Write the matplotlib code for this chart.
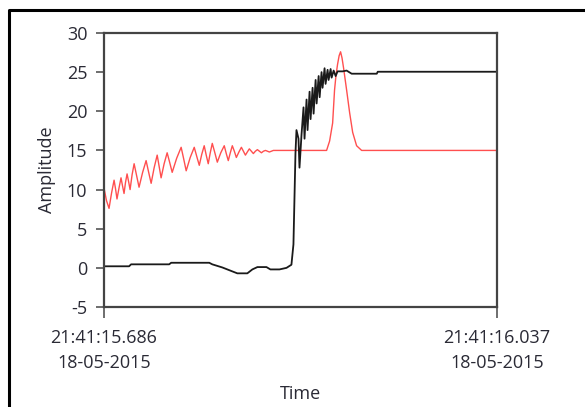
import matplotlib.pyplot as plt
from matplotlib.lines import Line2D

# time in ms after 21:41:15.686
red_t = [0, 2.2, 4.5, 6.8, 9.0, 10.3, 11.6, 13.4, 15.2, 16.5, 17.9, 19.2,
         20.6, 22.0, 23.3, 25.1, 26.9, 29.1, 31.3, 34.5, 37.6, 39.9, 42.1,
         44.8, 47.5, 49.2, 51.0, 53.7, 56.4, 58.6, 60.9, 64.9, 68.9, 71.2,
         73.4, 77.0, 80.6, 82.9, 85.1, 87.3, 89.5, 91.3, 93.1, 94.9, 96.7,
         99.0, 101.2, 104.3, 107.4, 109.2, 111.0, 112.8, 114.6, 116.4, 118.2,
         120.5, 122.7, 124.5, 126.3, 128.0, 129.8, 131.6, 133.4, 135.2, 137.0,
         138.8, 140.6, 142.4, 144.2, 146.0, 147.7, 151.3, 198.8, 201.5, 204.2,
         205.9, 207.2, 208.6, 210.0, 211.3, 212.6, 214.0, 216.7, 219.4, 222.1,
         225.6, 230.1, 351]
red_v = [10.2, 8.6, 7.6, 9.6, 11.2, 10.1, 8.8, 10.2, 11.5, 10.5, 9.5, 10.9,
         12.0, 11.0, 10.0, 11.9, 13.3, 11.8, 10.3, 12.2, 13.7, 12.2, 10.8,
         12.8, 14.4, 13.0, 11.5, 13.3, 14.7, 13.5, 12.2, 14.0, 15.4, 13.9,
         12.4, 14.1, 15.4, 14.2, 13.1, 14.5, 15.6, 14.4, 13.3, 14.7, 15.9,
         14.7, 13.5, 14.7, 15.6, 14.6, 13.7, 14.7, 15.6, 14.9, 14.1, 14.8,
         15.4, 14.9, 14.4, 14.8, 15.2, 14.9, 14.6, 14.9, 15.1, 14.9, 14.7,
         14.9, 15.0, 14.9, 14.8, 15.0, 15.0, 16.2, 18.5, 22.7, 24.6, 26.0,
         27.1, 27.6, 26.8, 25.5, 22.7, 19.8, 17.3, 15.6, 15.0, 15.0]

black_t = [0, 22.4, 24.2, 58.2, 60.0, 94.0, 96.7, 105.7, 113.7, 119.1, 128.0,
           132.5, 137.0, 145.1, 148.6, 156.7, 163.0, 167.4, 169.2, 171.0, 171.9,
           173.7, 174.6, 176.4, 178.2, 179.1, 180.9, 181.8, 183.6, 184.5, 186.3,
           187.2, 189.0, 189.9, 191.7, 192.6, 194.3, 195.2, 197.0, 197.9, 199.7,
           200.6, 202.4, 203.3, 205.1, 206.9, 208.6, 213.1, 216.7, 221.2, 243.6,
           244.5, 351]
black_v = [0.2, 0.2, 0.45, 0.45, 0.65, 0.65, 0.45, 0.05, -0.4, -0.7, -0.7,
           -0.2, 0.1, 0.1, -0.2, -0.2, 0.0, 0.4, 3.0, 14.6, 17.6,
           16.5, 12.8, 17.0, 20.5, 16.5, 21.5, 17.6, 22.5, 19.0, 23.0,
           19.7, 24.0, 21.0, 24.5, 21.8, 25.0, 23.0, 25.5, 23.5, 25.3,
           24.0, 25.4, 24.3, 25.2, 24.5, 25.1, 25.1, 25.2, 24.8, 24.8,
           25.05, 25.05]

x_ticks = [0, 351]
x_labels = ['21:41:15.686\n18-05-2015', '21:41:16.037\n18-05-2015']
y_ticks = [-5, 0, 5, 10, 15, 20, 25, 30]

plt.rcParams['font.family'] = ['Open Sans', 'DejaVu Sans']
plt.rcParams['axes.unicode_minus'] = False
txt = '#2a2a35'

fig = plt.figure(figsize=(5.85, 4.07), dpi=100, facecolor='white',
                 edgecolor='white', linewidth=0)
# outer frame, only left and top edges are in view
fig.add_artist(Line2D([9 / 585, 9 / 585, 1.1], [-0.1, 1 - 10 / 407, 1 - 10 / 407],
                      transform=fig.transFigure, color='black', lw=2.2))

ax = fig.add_axes([104 / 585, 1 - 307 / 407, 393 / 585, 274 / 407])
ax.plot(red_t, red_v, color='#ff3030', lw=1.0, alpha=0.85)
ax.plot(black_t, black_v, color='#1a1a1a', lw=1.3)

ax.set_xlim(0, 351)
ax.set_ylim(-5, 30)
ax.set_yticks(y_ticks)
ax.set_xticks(x_ticks)
ax.set_xticklabels(x_labels, linespacing=1.45)
for s in ax.spines.values():
    s.set_color('#444444')
    s.set_linewidth(1.6)
ax.tick_params(axis='y', length=6, width=1.2, color='#555555', pad=6,
               labelsize=13, labelcolor=txt)
ax.tick_params(axis='x', length=8, width=1.2, color='#555555', pad=8,
               labelsize=13, labelcolor=txt)
ax.set_ylabel('Amplitude', fontsize=13, color=txt, labelpad=8)
ax.set_xlabel('Time', fontsize=13, color=txt, labelpad=10)

fig.savefig('out.png', dpi=100)
